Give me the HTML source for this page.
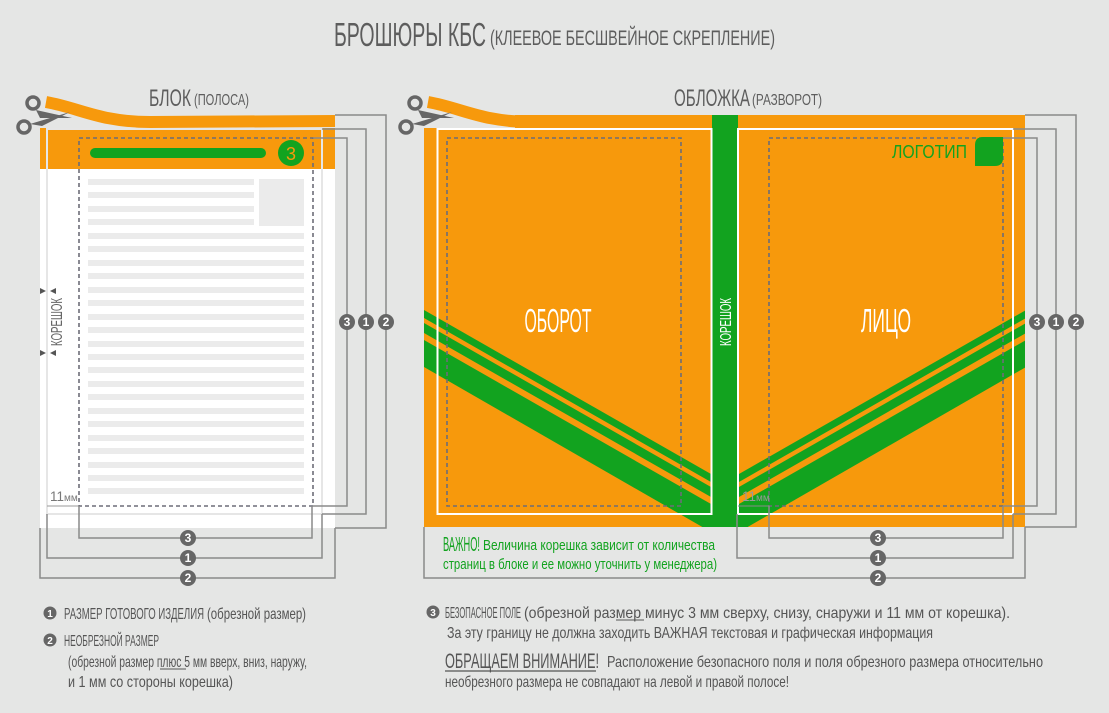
<!DOCTYPE html>
<html><head><meta charset="utf-8"><style>
html,body{margin:0;padding:0;background:#e5e6e5;}
svg{display:block;}
text{font-family:"Liberation Sans Narrow","Liberation Sans",sans-serif;}
</style></head><body>
<svg width="1109" height="713" viewBox="0 0 1109 713" xmlns="http://www.w3.org/2000/svg">
<rect width="1109" height="713" fill="#e5e6e5"/>
<!-- Title -->
<text x="334" y="46" font-size="33" fill="#5d5d5d" textLength="152" lengthAdjust="spacingAndGlyphs">БРОШЮРЫ КБС</text>
<text x="490" y="45" font-size="21" fill="#5d5d5d" textLength="285" lengthAdjust="spacingAndGlyphs">(КЛЕЕВОЕ БЕСШВЕЙНОЕ СКРЕПЛЕНИЕ)</text>

<!-- ===== LEFT BLOCK ===== -->
<text x="149" y="106" font-size="24" fill="#5d5d5d" textLength="42" lengthAdjust="spacingAndGlyphs">БЛОК</text>
<text x="194" y="105" font-size="16" fill="#5d5d5d" textLength="55" lengthAdjust="spacingAndGlyphs">(ПОЛОСА)</text>
<rect x="40" y="128" width="295" height="400" fill="#fff"/>
<rect x="40" y="128" width="295" height="41" fill="#f7990c"/>
<path d="M46,102 C80,108 100,122 150,122 L335,121" stroke="#f7990c" stroke-width="12" fill="none"/>
<rect x="47" y="129" width="275" height="385" fill="none" stroke="#e6e6e6" stroke-width="2"/>
<rect x="90" y="148" width="176" height="10" rx="5" fill="#12a31f"/>
<circle cx="291" cy="153" r="13" fill="#12a31f"/>
<text x="291" y="160" font-size="18" fill="#f7990c" text-anchor="middle">3</text>
<g fill="#ebebeb">
<rect x="88" y="179" width="166" height="6"/><rect x="88" y="192" width="166" height="6"/>
<rect x="88" y="206" width="166" height="6"/><rect x="88" y="219" width="166" height="6"/>
<rect x="259" y="179" width="45" height="47"/>
</g>
<g fill="#ebebeb">
<rect x="88" y="233" width="216" height="6"/><rect x="88" y="246" width="216" height="6"/>
<rect x="88" y="260" width="216" height="6"/><rect x="88" y="273" width="216" height="6"/>
<rect x="88" y="287" width="216" height="6"/><rect x="88" y="300" width="216" height="6"/>
<rect x="88" y="314" width="216" height="6"/><rect x="88" y="327" width="216" height="6"/>
<rect x="88" y="341" width="216" height="6"/><rect x="88" y="354" width="216" height="6"/>
<rect x="88" y="367" width="216" height="6"/><rect x="88" y="381" width="216" height="6"/>
<rect x="88" y="394" width="216" height="6"/><rect x="88" y="408" width="216" height="6"/>
<rect x="88" y="421" width="216" height="6"/><rect x="88" y="435" width="216" height="6"/>
<rect x="88" y="448" width="216" height="6"/><rect x="88" y="462" width="216" height="6"/>
<rect x="88" y="475" width="216" height="6"/><rect x="88" y="488" width="216" height="6"/>
</g>
<rect x="79" y="138" width="234" height="368" fill="none" stroke="#6d6d78" stroke-width="1.6" stroke-dasharray="4,3"/>
<text x="50" y="501" font-size="14" fill="#777" textLength="14" lengthAdjust="spacingAndGlyphs">11</text>
<text x="64" y="501" font-size="10" fill="#777">мм</text>
<line x1="47" y1="506" x2="79" y2="506" stroke="#999" stroke-width="1"/>
<text transform="translate(62,346) rotate(-90)" font-size="16" fill="#666" textLength="48" lengthAdjust="spacingAndGlyphs">КОРЕШОК</text>
<g fill="#555">
<polygon points="40,288 46,291 40,294"/><polygon points="56,288 50,291 56,294"/>
<polygon points="40,350 46,353 40,356"/><polygon points="56,350 50,353 56,356"/>
</g>
<g fill="none" stroke="#8a8a8a" stroke-width="1.5">
<polyline points="313,138 347,138 347,506 313,506"/>
<polyline points="322,129 366,129 366,514 322,514"/>
<polyline points="335,115 386,115 386,528 335,528"/>
<polyline points="79,506 79,538 312,538 312,506"/>
<polyline points="47,514 47,558 322,558 322,514"/>
<polyline points="40,528 40,578 335,578 335,528"/>
</g>
<g>
<polygon points="36,110 72,118 40,118" fill="#666"/>
<polygon points="30,124 70,112 42,126" fill="#666"/>
<circle cx="33" cy="103" r="6" fill="none" stroke="#666" stroke-width="3.5"/>
<circle cx="24" cy="127" r="6" fill="none" stroke="#666" stroke-width="3.5"/>
</g>

<!-- ===== RIGHT COVER ===== -->
<text x="674" y="106" font-size="24" fill="#5d5d5d" textLength="76" lengthAdjust="spacingAndGlyphs">ОБЛОЖКА</text>
<text x="752" y="105" font-size="16" fill="#5d5d5d" textLength="70" lengthAdjust="spacingAndGlyphs">(РАЗВОРОТ)</text>
<defs><clipPath id="cv"><rect x="424" y="115" width="601" height="412"/></clipPath></defs>
<rect x="424" y="128" width="601" height="399" fill="#f7990c"/>
<rect x="515" y="115" width="510" height="14" fill="#f7990c"/>
<path d="M428,102 C462,108 482,122 532,122 L560,122" stroke="#f7990c" stroke-width="12" fill="none"/>
<g clip-path="url(#cv)" fill="#12a31f">
<polygon points="424,310 725,482 725,490 424,318"/>
<polygon points="424,323 725,495 725,505 424,333"/>
<polygon points="424,340 725,512 725,540 424,367"/>
<polygon points="1026,310 725,482 725,490 1026,318"/>
<polygon points="1026,323 725,495 725,505 1026,333"/>
<polygon points="1026,340 725,512 725,540 1026,367"/>
<rect x="712" y="115" width="26" height="412"/>
</g>
<rect x="437.5" y="129" width="274" height="385" fill="none" stroke="#fff" stroke-width="2"/>
<rect x="738" y="129" width="275" height="385" fill="none" stroke="#fff" stroke-width="2"/>
<rect x="447" y="138" width="234" height="368" fill="none" stroke="#6d6d78" stroke-width="1.6" stroke-dasharray="4,3"/>
<rect x="769" y="138" width="234" height="368" fill="none" stroke="#6d6d78" stroke-width="1.6" stroke-dasharray="4,3"/>
<text x="558" y="332" font-size="33" fill="#fff" text-anchor="middle" textLength="67" lengthAdjust="spacingAndGlyphs">ОБОРОТ</text>
<text x="886" y="332" font-size="33" fill="#fff" text-anchor="middle" textLength="50" lengthAdjust="spacingAndGlyphs">ЛИЦО</text>
<text transform="translate(731,346) rotate(-90)" font-size="16" fill="#fff" textLength="48" lengthAdjust="spacingAndGlyphs">КОРЕШОК</text>
<text x="892" y="158" font-size="18" fill="#12a31f" textLength="75" lengthAdjust="spacingAndGlyphs">ЛОГОТИП</text>
<path d="M983,137 L1003,137 L1003,158 Q1003,166 995,166 L975,166 L975,145 Q975,137 983,137 Z" fill="#12a31f"/>
<text x="742" y="501" font-size="14" fill="#999" textLength="14" lengthAdjust="spacingAndGlyphs">11</text>
<text x="756" y="501" font-size="10" fill="#999">мм</text>
<line x1="738" y1="506" x2="769" y2="506" stroke="#888" stroke-width="1"/>
<g fill="none" stroke="#8a8a8a" stroke-width="1.5">
<polyline points="1003,138 1037,138 1037,506 1003,506"/>
<polyline points="1013,129 1056,129 1056,514 1013,514"/>
<polyline points="1025,115 1076,115 1076,527 1025,527"/>
<polyline points="769,506 769,538 1003,538 1003,506"/>
<polyline points="737,514 737,558 1013,558 1013,514"/>
<polyline points="424,527 424,578 1025,578 1025,527"/>
</g>
<g>
<polygon points="418,110 454,118 422,118" fill="#666"/>
<polygon points="412,124 452,112 424,126" fill="#666"/>
<circle cx="415" cy="103" r="6" fill="none" stroke="#666" stroke-width="3.5"/>
<circle cx="406" cy="127" r="6" fill="none" stroke="#666" stroke-width="3.5"/>
</g>
<text x="443" y="551" font-size="20" fill="#12a31f" textLength="37" lengthAdjust="spacingAndGlyphs">ВАЖНО!</text>
<text x="483" y="550" font-size="15" fill="#12a31f" textLength="232" lengthAdjust="spacingAndGlyphs">Величина корешка зависит от количества</text>
<text x="443" y="569" font-size="15" fill="#12a31f" textLength="274" lengthAdjust="spacingAndGlyphs">страниц в блоке и ее можно уточнить у менеджера)</text>

<g font-size="12" fill="#fff" text-anchor="middle" font-weight="bold">
<circle cx="347" cy="322" r="8" fill="#666"/><text x="347" y="326">3</text>
<circle cx="366" cy="322" r="8" fill="#666"/><text x="366" y="326">1</text>
<circle cx="386" cy="322" r="8" fill="#666"/><text x="386" y="326">2</text>
<circle cx="188" cy="538" r="8" fill="#666"/><text x="188" y="542">3</text>
<circle cx="188" cy="558" r="8" fill="#666"/><text x="188" y="562">1</text>
<circle cx="188" cy="578" r="8" fill="#666"/><text x="188" y="582">2</text>
<circle cx="1037" cy="322" r="8" fill="#666"/><text x="1037" y="326">3</text>
<circle cx="1056" cy="322" r="8" fill="#666"/><text x="1056" y="326">1</text>
<circle cx="1076" cy="322" r="8" fill="#666"/><text x="1076" y="326">2</text>
<circle cx="878" cy="538" r="8" fill="#666"/><text x="878" y="542">3</text>
<circle cx="878" cy="558" r="8" fill="#666"/><text x="878" y="562">1</text>
<circle cx="878" cy="578" r="8" fill="#666"/><text x="878" y="582">2</text>
</g>

<g font-size="10" fill="#fff" text-anchor="middle" font-weight="bold">
<circle cx="50" cy="613" r="6.5" fill="#666"/><text x="50" y="617">1</text>
<circle cx="50" cy="640" r="6.5" fill="#666"/><text x="50" y="644">2</text>
<circle cx="433" cy="612" r="6.5" fill="#666"/><text x="433" y="616">3</text>
</g>
<g fill="#555">
<text x="64" y="619" font-size="16" textLength="140" lengthAdjust="spacingAndGlyphs">РАЗМЕР ГОТОВОГО ИЗДЕЛИЯ</text>
<text x="207" y="619" font-size="16" textLength="99" lengthAdjust="spacingAndGlyphs">(обрезной размер)</text>
<text x="64" y="646" font-size="16" textLength="95" lengthAdjust="spacingAndGlyphs">НЕОБРЕЗНОЙ РАЗМЕР</text>
<text x="68" y="667" font-size="16" textLength="239" lengthAdjust="spacingAndGlyphs">(обрезной размер плюс 5 мм вверх, вниз, наружу,</text>
<line x1="160" y1="669" x2="186" y2="669" stroke="#555" stroke-width="1"/>
<text x="68" y="687" font-size="16" textLength="165" lengthAdjust="spacingAndGlyphs">и 1 мм со стороны корешка)</text>
<text x="445" y="618" font-size="16" textLength="76" lengthAdjust="spacingAndGlyphs">БЕЗОПАСНОЕ ПОЛЕ</text>
<text x="524" y="618" font-size="16" textLength="486" lengthAdjust="spacingAndGlyphs">(обрезной размер минус 3 мм сверху, снизу, снаружи и 11 мм от корешка).</text>
<line x1="616" y1="620" x2="644" y2="620" stroke="#555" stroke-width="1"/>
<text x="447" y="638" font-size="16" textLength="486" lengthAdjust="spacingAndGlyphs">За эту границу не должна заходить ВАЖНАЯ текстовая и графическая информация</text>
<text x="445" y="668" font-size="21" textLength="154" lengthAdjust="spacingAndGlyphs">ОБРАЩАЕМ ВНИМАНИЕ!</text>
<line x1="445" y1="671" x2="596" y2="671" stroke="#555" stroke-width="1.2"/>
<text x="607" y="667" font-size="16" textLength="436" lengthAdjust="spacingAndGlyphs">Расположение безопасного поля и поля обрезного размера относительно</text>
<text x="445" y="687" font-size="16" textLength="344" lengthAdjust="spacingAndGlyphs">необрезного размера не совпадают на левой и правой полосе!</text>
</g>
</svg>
</body></html>
